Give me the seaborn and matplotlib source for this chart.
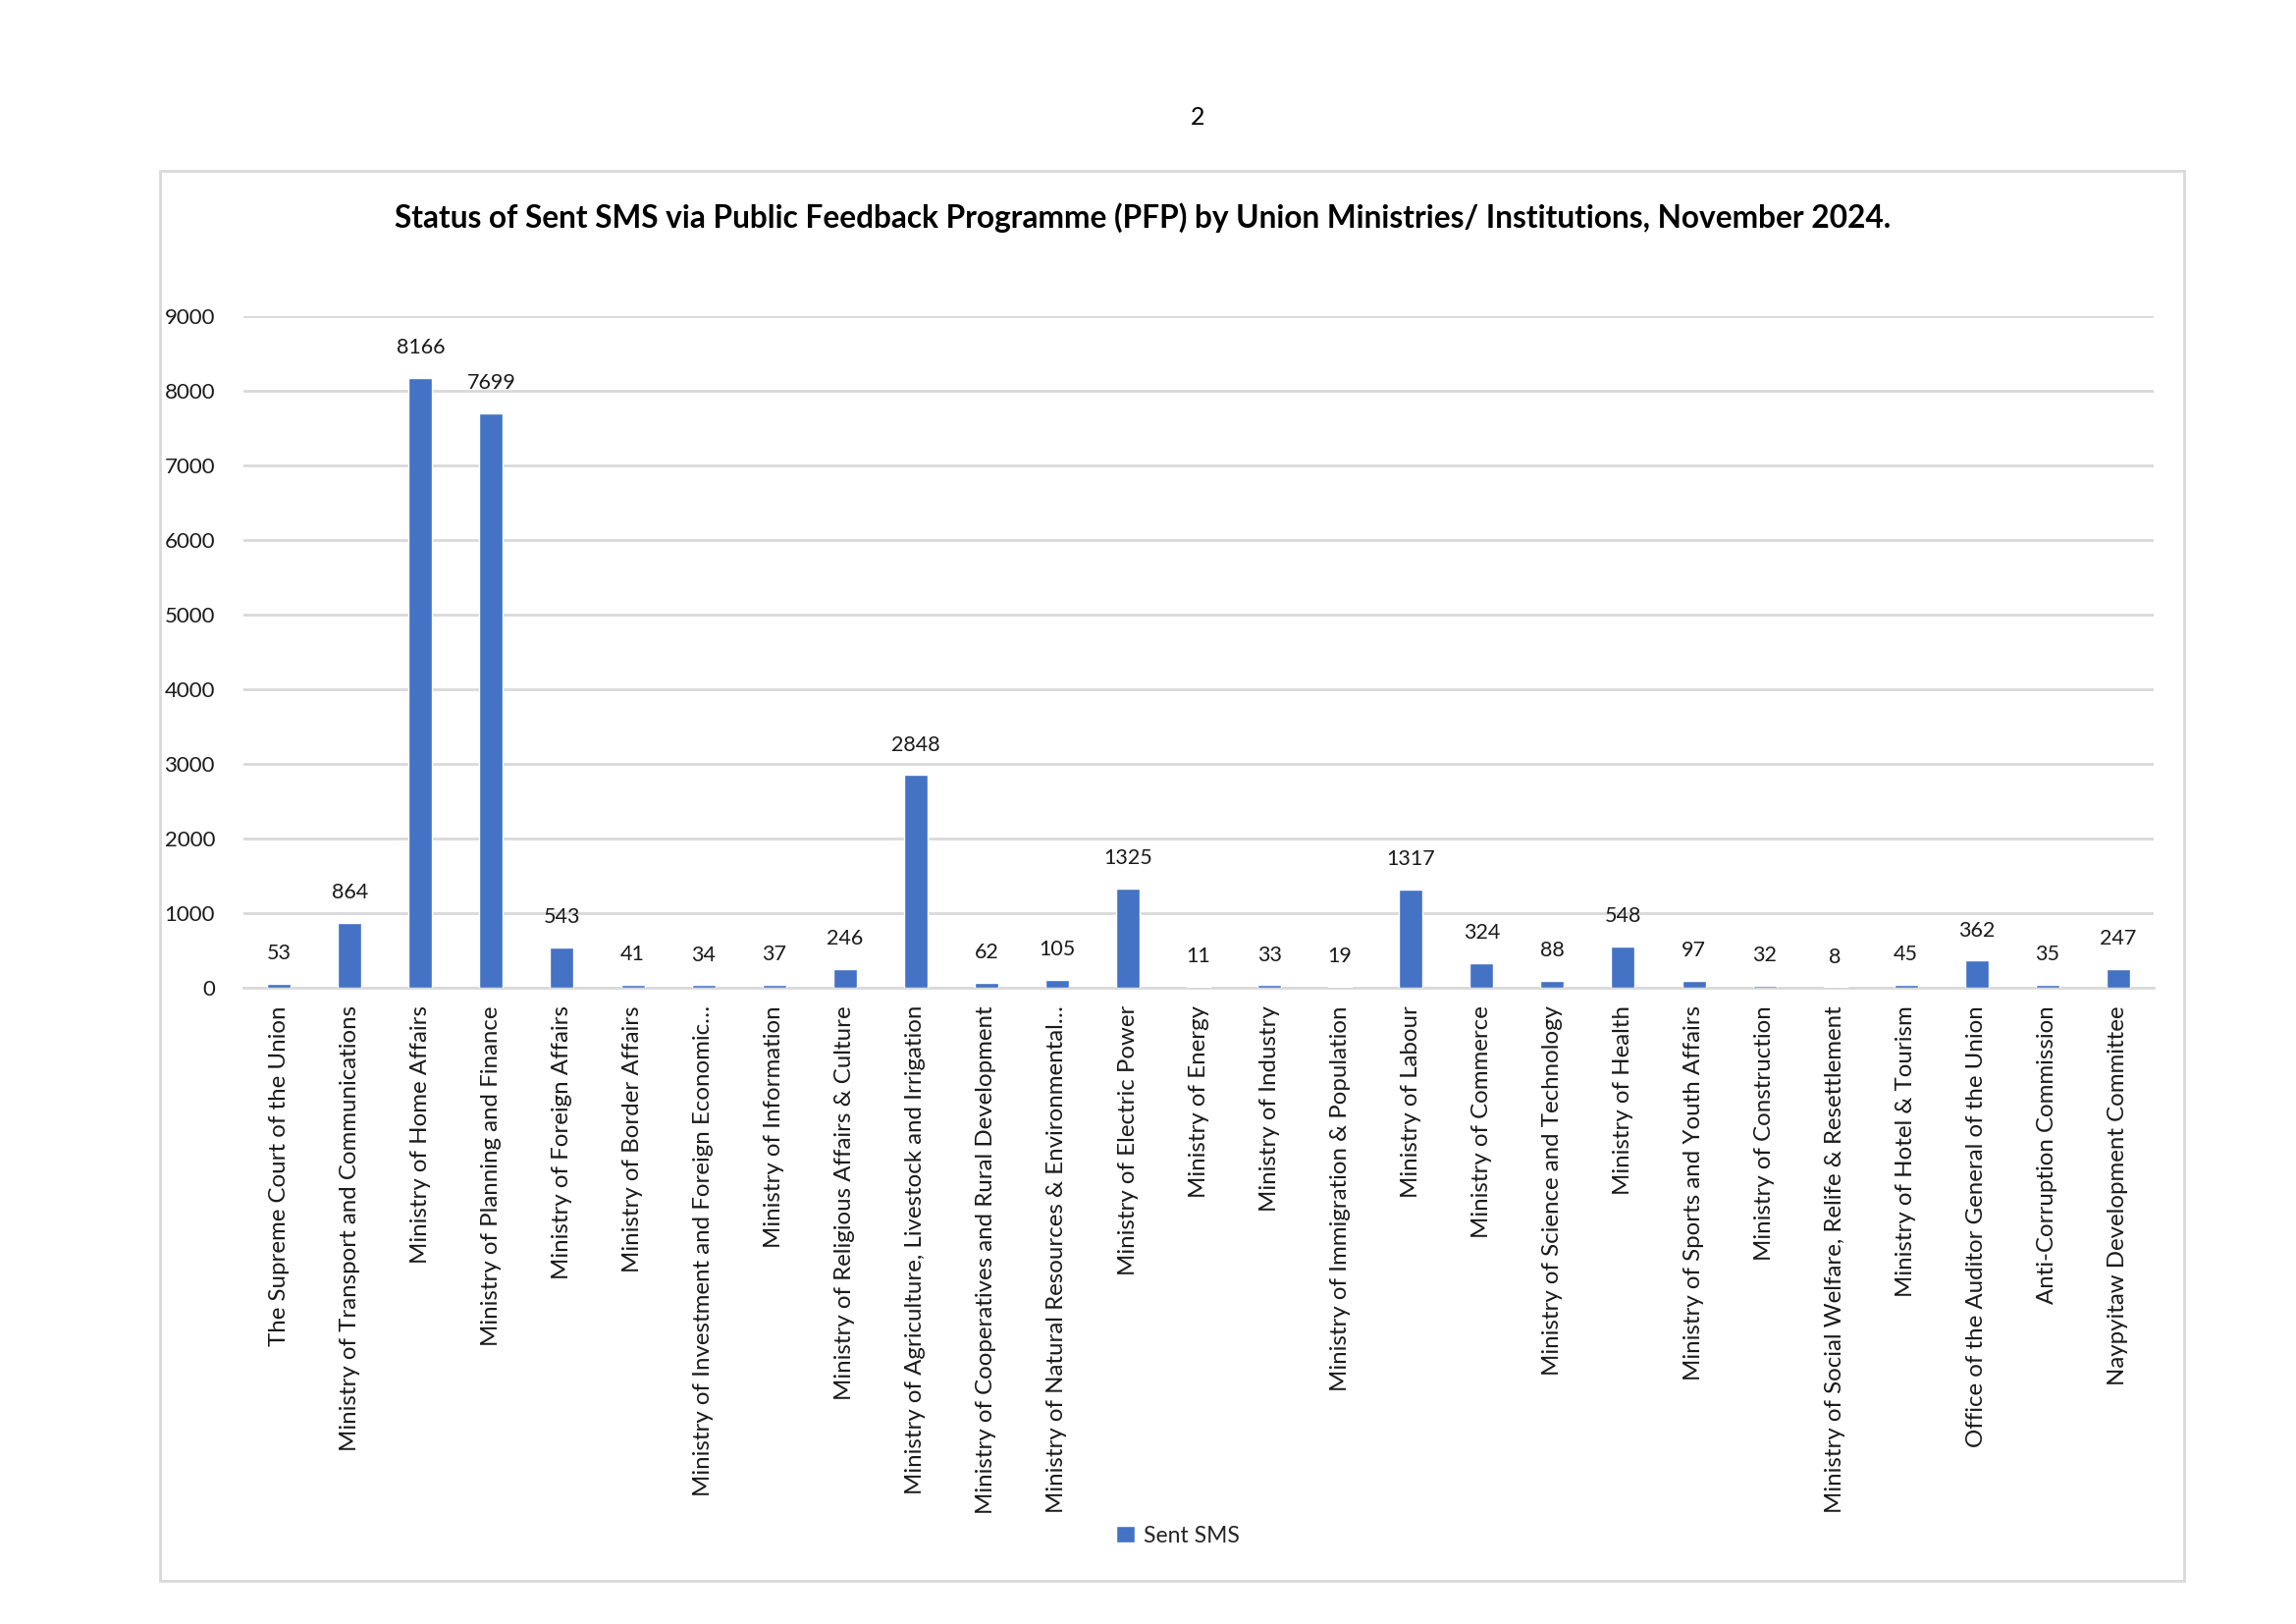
import matplotlib
matplotlib.use("Agg")
import matplotlib.pyplot as plt
import seaborn as sns
import pandas as pd
from matplotlib.patches import Rectangle

categories = [
    "The Supreme Court of the Union",
    "Ministry of Transport and Communications",
    "Ministry of Home Affairs",
    "Ministry of Planning and Finance",
    "Ministry of Foreign Affairs",
    "Ministry of Border Affairs",
    "Ministry of Investment and Foreign Economic…",
    "Ministry of Information",
    "Ministry of Religious Affairs & Culture",
    "Ministry of Agriculture, Livestock and Irrigation",
    "Ministry of Cooperatives and Rural Development",
    "Ministry of Natural Resources & Environmental…",
    "Ministry of Electric Power",
    "Ministry of Energy",
    "Ministry of Industry",
    "Ministry of Immigration & Population",
    "Ministry of Labour",
    "Ministry of Commerce",
    "Ministry of Science and Technology",
    "Ministry of Health",
    "Ministry of Sports and Youth Affairs",
    "Ministry of Construction",
    "Ministry of Social Welfare, Relife & Resettlement",
    "Ministry of Hotel & Tourism",
    "Office of the Auditor General of the Union",
    "Anti-Corruption Commission",
    "Naypyitaw Development Committee",
]
sent_sms = [53, 864, 8166, 7699, 543, 41, 34, 37, 246, 2848, 62, 105, 1325, 11,
            33, 19, 1317, 324, 88, 548, 97, 32, 8, 45, 362, 35, 247]
y_ticks = [0, 1000, 2000, 3000, 4000, 5000, 6000, 7000, 8000, 9000]
series_name = "Sent SMS"
title = "Status of Sent SMS via Public Feedback Programme (PFP) by Union Ministries/ Institutions, November 2024."
page_number = "2"

sns.set_theme(style="white")
plt.rcParams["font.family"] = ["Lato", "DejaVu Sans"]

df = pd.DataFrame({"category": categories, "value": sent_sms})

fig = plt.figure(figsize=(23.39, 16.54), dpi=100)
ax = fig.add_axes([0.1061, 0.3918, 0.8319, 0.4137])

# outer chart frame
fig.patches.append(Rectangle((0.0697, 0.0266), 0.8816, 0.8682, transform=fig.transFigure,
                             fill=False, edgecolor="#D9D9D9", linewidth=2.0, zorder=0))

sns.barplot(data=df, x="category", y="value", color="#4472C4", width=0.333,
            saturation=1, ax=ax, label=series_name, zorder=3)

ax.set_ylim(0, 9000)
ax.set_xlim(-0.5, len(categories) - 0.5)
ax.set_yticks(y_ticks)
ax.set_yticklabels([str(v) for v in y_ticks])
ax.yaxis.grid(True, color="#D9D9D9", linewidth=2.0, zorder=0)
ax.set_axisbelow(True)
for s in ["top", "right", "left"]:
    ax.spines[s].set_visible(False)
ax.spines["bottom"].set_color("#D9D9D9")
ax.spines["bottom"].set_linewidth(2.0)
ax.set_xlabel("")
ax.set_ylabel("")
ax.tick_params(axis="both", length=0, colors="#1a1a1a")
ax.tick_params(axis="y", pad=21, labelsize=16)
ax.tick_params(axis="x", pad=13, labelsize=17.3)
plt.setp(ax.get_xticklabels(), rotation=90, ha="center", va="top")

ax.bar_label(ax.containers[0], labels=[str(v) for v in sent_sms], padding=15,
             fontsize=15.5, color="#1a1a1a")

if ax.legend_:
    ax.legend_.remove()
handles, labels = ax.get_legend_handles_labels()
fig.legend(handles, labels, loc="center", bbox_to_anchor=(0.513, 0.0544), frameon=False,
           fontsize=16.5, handlelength=0.8, handleheight=0.8, handletextpad=0.4)

fig.text(0.4979, 0.8660, title, ha="center", va="center", fontsize=22.8, fontweight="bold",
         color="#000000")
fig.text(0.5215, 0.928, page_number, ha="center", va="center", fontsize=18, color="#000000")

fig.savefig("out.png", dpi=100)
